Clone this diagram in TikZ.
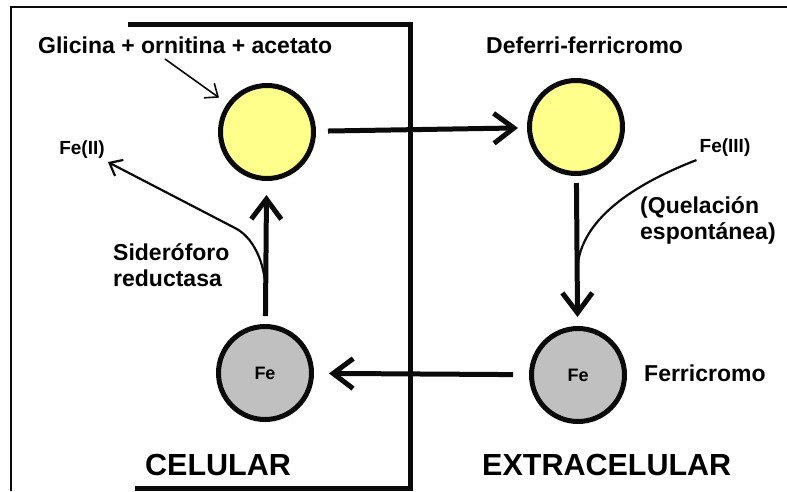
\documentclass[tikz,border=0pt]{standalone}
\usepackage{fontspec}
\setmainfont{Liberation Sans}
\usetikzlibrary{arrows.meta, positioning, calc}
\definecolor{myyellow}{RGB}{255,255,140}
\definecolor{mygrey}{RGB}{192,192,192}
\definecolor{mydark}{RGB}{10,10,10}
\tikzset{
  molec/.style={circle, draw=mydark, line width=5pt, minimum size=93pt, inner sep=0pt, font=\fontsize{18}{20}\selectfont\bfseries},
  libre/.style={molec, fill=myyellow},
  ferro/.style={molec, fill=mygrey},
  lbl/.style={font=\fontsize{23}{26}\selectfont\bfseries, inner sep=3pt, align=left},
  ionlbl/.style={font=\fontsize{19}{21}\selectfont\bfseries, inner sep=3pt},
  zonelbl/.style={font=\fontsize{30.5}{34}\selectfont\bfseries, inner sep=0pt},
  arrow/.style={-{Straight Barb[length=20pt, width=30pt]}, line width=5pt, color=mydark},
  thin arrow/.style={-{Straight Barb[length=11pt, width=18pt]}, line width=2.2pt, color=mydark},
  curve/.style={line width=2.2pt, color=mydark},
  membrane/.style={line width=5pt, color=mydark}
}

\begin{document}
\begin{tikzpicture}[x=1pt, y=-1pt]
  \useasboundingbox (0,0) rectangle (787,491);
  % frame and cell membrane
  \draw[line width=1.5pt, color=mydark] (787,7) -- (11,7) -- (11,491);
  \draw[membrane] (128,24) -- (410,24) -- (410,488) -- (135,488);

  % molecules
  \node[libre] (sint) at (267,132) {};
  \node[libre] (deferri) at (576,127) {};
  \node[ferro] (ferriin) at (265,373) {Fe};
  \node[ferro] (ferri) at (578,375) {Fe};

  % labels
  \node[lbl, anchor=base west] (precursor) at (35,53) {Glicina + ornitina + acetato};
  \node[lbl, anchor=base west] (deflbl) at (483,53) {Deferri-ferricromo};
  \node[lbl, anchor=west] (ferlbl) at (641,373) {Ferricromo};
  \node[lbl, anchor=west] (reduct) at (110,265) {Sideróforo\\reductasa};
  \node[lbl, anchor=west] (quel) at (637,220) {(Quelación\\espontánea)};
  \node[ionlbl] (fe2) at (82,150) {Fe(II)};
  \node[ionlbl] (fe3) at (725,148) {Fe(III)};
  \node[zonelbl, anchor=base west] (cel) at (145,475) {CELULAR};
  \node[zonelbl, anchor=base west] (extra) at (482,475) {EXTRACELULAR};

  % cycle
  \draw[arrow, shorten <=12pt, shorten >=9pt] (sint) -- (deferri);
  \draw[arrow, shorten <=7pt, shorten >=9pt] (deferri) -- (ferri);
  \draw[arrow, shorten <=16pt, shorten >=15pt] (ferri) -- (ferriin);
  \draw[arrow, shorten <=8pt, shorten >=14pt] (ferriin) -- (sint);

  % side paths
  \coordinate (ptr) at (165,59);
  \draw[thin arrow, line width=1.6pt, shorten >=10pt] (ptr) -- (sint);
  \coordinate (red) at ($(ferriin)!0.34!(sint)$);
  \draw[thin arrow] (red) .. controls (265,262) and (253,237) .. (235,228) -- (fe2.south east);
  \coordinate (chel) at ($(deferri)!0.58!(ferri)$);
  \draw[curve] (fe3.south west) .. controls (645,180) and (579,215) .. (chel);
\end{tikzpicture}
\end{document}
